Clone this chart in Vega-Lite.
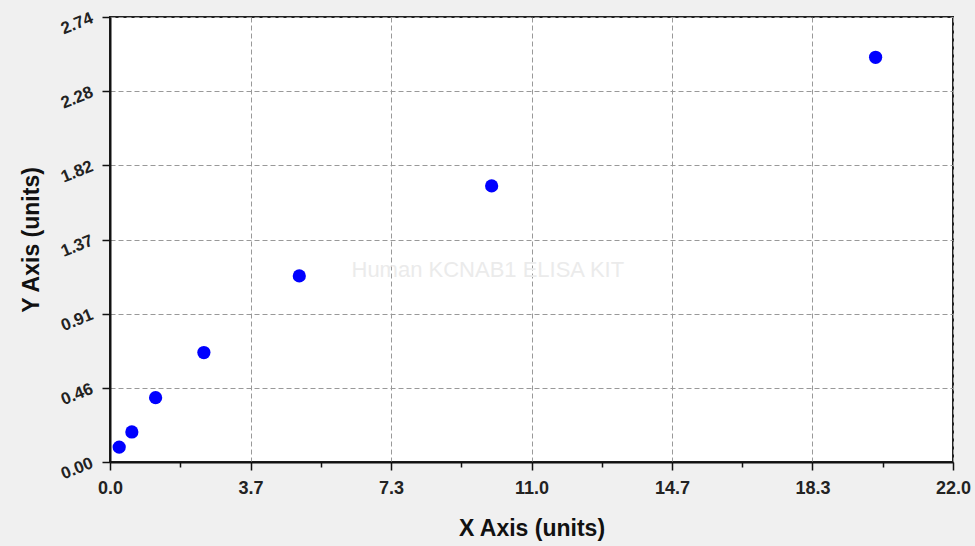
{
  "$schema": "https://vega.github.io/schema/vega-lite/v6.json",
  "width": 843,
  "height": 445,
  "autosize": "none",
  "padding": {"left": 110, "top": 17, "right": 22, "bottom": 84},
  "background": "#f0f0f0",
  "config": {
    "view": {"fill": "white", "stroke": "#222222", "strokeWidth": 2},
    "font": "Liberation Sans"
  },
  "datasets": {
    "points": [
      {"conc": 0.24, "od": 0.092},
      {"conc": 0.57, "od": 0.185},
      {"conc": 1.19, "od": 0.396},
      {"conc": 2.45, "od": 0.674},
      {"conc": 4.94, "od": 1.146},
      {"conc": 9.96, "od": 1.7},
      {"conc": 19.98, "od": 2.492}
    ],
    "mark": [
      {"conc": 9.86, "od": 1.183, "label": "Human KCNAB1 ELISA KIT"}
    ]
  },
  "layer": [
    {
      "data": {"name": "mark"},
      "mark": {"type": "text", "fontSize": 22, "color": "#ebebeb", "font": "Liberation Sans"},
      "encoding": {
        "x": {"field": "conc", "type": "quantitative"},
        "y": {"field": "od", "type": "quantitative"},
        "text": {"field": "label"}
      }
    },
    {
      "data": {"name": "points"},
      "mark": {"type": "circle", "size": 175, "color": "#0000ff", "opacity": 1},
      "encoding": {
        "x": {
          "field": "conc",
          "type": "quantitative",
          "scale": {"domain": [0, 22], "nice": false, "zero": false},
          "axis": {
            "title": "X Axis (units)",
            "titleFont": "Liberation Sans",
            "titleFontSize": 23,
            "titleFontWeight": "bold",
            "titleColor": "#111111",
            "titlePadding": 20,
            "values": [0, 0.916667, 1.833333, 2.75, 3.666667, 4.583333, 5.5, 6.416667, 7.333333, 8.25, 9.166667, 10.083333, 11, 11.916667, 12.833333, 13.75, 14.666667, 15.583333, 16.5, 17.416667, 18.333333, 19.25, 20.166667, 21.083333, 22],
            "labelExpr": "round(datum.value*24/22) % 4 === 0 ? format(datum.value, '.1f') : ''",
            "labelFont": "Liberation Sans",
            "labelFontSize": 18,
            "labelFontWeight": "bold",
            "labelColor": "#222222",
            "labelFlush": false,
            "labelOverlap": false,
            "labelPadding": 9,
            "domainColor": "#111111",
            "domainWidth": 2,
            "tickColor": "#111111",
            "tickWidth": 1.5,
            "tickSize": {"condition": {"test": "round(datum.value*24/22) % 4 === 0", "value": 8}, "value": 5},
            "grid": true,
            "gridColor": "#999999",
            "gridDash": [5, 3],
            "gridWidth": 1,
            "gridOpacity": {"condition": {"test": "round(datum.value*24/22) % 4 === 0", "value": 1}, "value": 0}
          }
        },
        "y": {
          "field": "od",
          "type": "quantitative",
          "scale": {"domain": [0, 2.74], "nice": false, "zero": false},
          "axis": {
            "title": "Y Axis (units)",
            "titleFont": "Liberation Sans",
            "titleFontSize": 23,
            "titleFontWeight": "bold",
            "titleColor": "#111111",
            "titlePadding": 14,
            "values": [0, 0.114167, 0.228333, 0.3425, 0.456667, 0.570833, 0.685, 0.799167, 0.913333, 1.0275, 1.141667, 1.255833, 1.37, 1.484167, 1.598333, 1.7125, 1.826667, 1.940833, 2.055, 2.169167, 2.283333, 2.3975, 2.511667, 2.625833, 2.74],
            "labelExpr": "round(datum.value*24/2.74) % 4 === 0 ? ['0.00','0.46','0.91','1.37','1.82','2.28','2.74'][round(datum.value*6/2.74)] : ''",
            "labelFont": "Liberation Sans",
            "labelFontSize": 17,
            "labelFontWeight": "bold",
            "labelColor": "#222222",
            "labelAngle": -22,
            "labelAlign": "right",
            "labelBaseline": "middle",
            "labelFlush": false,
            "labelOverlap": false,
            "labelPadding": 10,
            "domainColor": "#111111",
            "domainWidth": 2,
            "tickColor": "#111111",
            "tickWidth": 1.5,
            "tickSize": {"condition": {"test": "round(datum.value*24/2.74) % 4 === 0", "value": 8}, "value": 5},
            "grid": true,
            "gridColor": "#999999",
            "gridDash": [5, 3],
            "gridWidth": 1,
            "gridOpacity": {"condition": {"test": "round(datum.value*24/2.74) % 4 === 0", "value": 1}, "value": 0}
          }
        }
      }
    }
  ]
}
